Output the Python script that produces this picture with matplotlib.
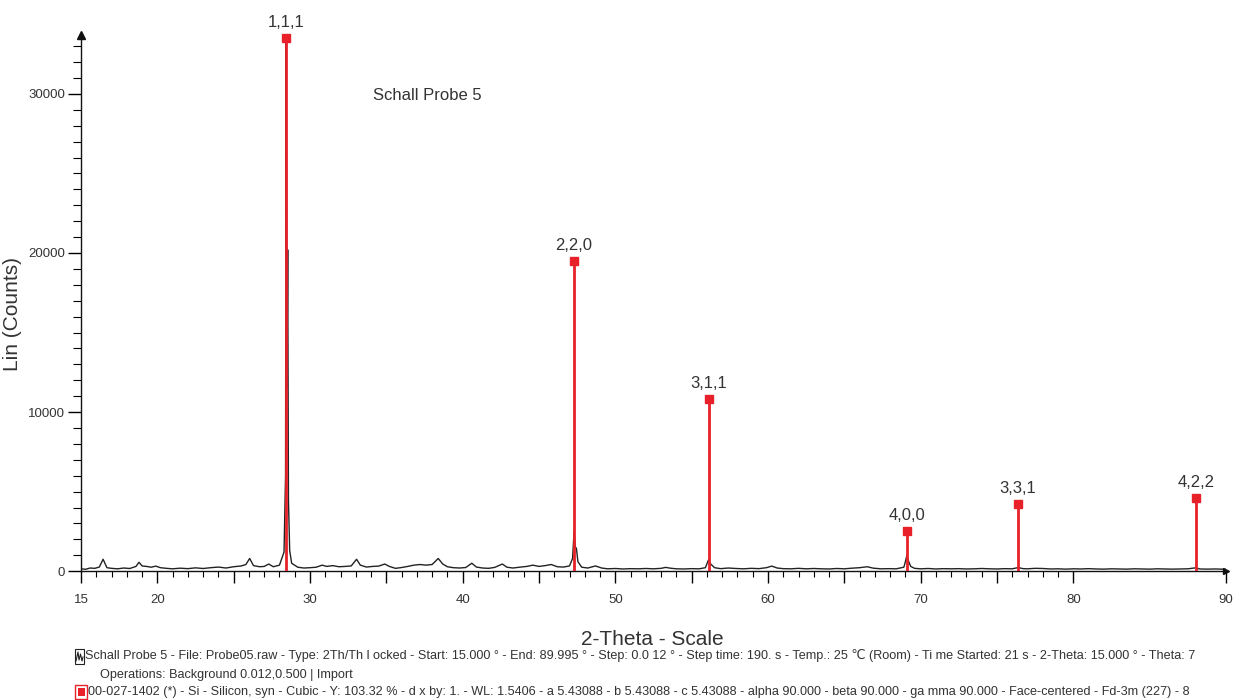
import matplotlib
matplotlib.use('Agg')
import matplotlib.pyplot as plt
from matplotlib.patches import Rectangle
from matplotlib.ticker import FixedLocator

plt.rcParams['font.family'] = ['Liberation Sans', 'DejaVu Sans']

two_theta = [15.0, 15.3, 15.6, 15.9, 16.2, 16.45, 16.7, 17.0, 17.4, 17.8, 18.2, 18.6, 18.8, 19.0,
             19.3, 19.6, 19.9, 20.2, 20.6, 21.0, 21.5, 22.0, 22.5, 23.0, 23.5, 24.0, 24.5, 25.0,
             25.5, 25.8, 26.05, 26.3, 26.7, 27.0, 27.3, 27.6, 28.0, 28.3, 28.40, 28.44, 28.49,
             28.54, 28.59, 28.67, 28.8, 29.2, 29.6, 30.0, 30.4, 30.8, 31.1, 31.5, 31.9, 32.3,
             32.7, 33.05, 33.3, 33.7, 34.1, 34.5, 34.9, 35.2, 35.6, 36.0, 36.4, 36.8, 37.2, 37.6,
             38.0, 38.4, 38.7, 39.0, 39.4, 39.8, 40.2, 40.6, 40.9, 41.3, 41.7, 42.1, 42.6, 42.9,
             43.3, 43.8, 44.2, 44.6, 45.0, 45.4, 45.8, 46.2, 46.6, 47.0, 47.2, 47.3, 47.38, 47.45,
             47.55, 47.8, 48.2, 48.7, 49.1, 49.5, 50.0, 50.5, 51.0, 51.5, 52.0, 52.5, 53.0, 53.3,
             53.6, 54.0, 54.5, 55.0, 55.5, 55.9, 56.1, 56.25, 56.5, 56.9, 57.4, 57.9, 58.4, 58.9,
             59.4, 59.9, 60.25, 60.6, 61.0, 61.5, 62.0, 62.5, 63.0, 63.5, 64.0, 64.5, 65.0, 65.5,
             66.0, 66.5, 66.9, 67.4, 67.9, 68.4, 68.9, 69.0, 69.1, 69.2, 69.35, 69.6, 70.0, 70.5,
             71.0, 71.5, 72.0, 72.5, 73.0, 73.5, 74.0, 74.5, 75.0, 75.5, 76.0, 76.4, 76.7, 77.0,
             77.5, 78.0, 78.5, 79.0, 79.5, 80.0, 80.5, 81.0, 81.5, 82.0, 82.5, 83.0, 83.5, 84.0,
             84.5, 85.0, 85.5, 86.0, 86.5, 87.0, 87.5, 88.0, 88.3, 88.8, 89.3, 90.0]
counts = [150, 120, 200, 180, 260, 750, 220, 180, 150, 200, 170, 300, 560, 330,
          300, 250, 320, 220, 180, 150, 190, 160, 210, 170, 220, 260, 200, 280,
          330, 420, 800, 350, 280, 300, 450, 280, 380, 1200, 6000, 33500, 11500,
          20200, 4500, 1300, 500, 250, 200, 220, 250, 380, 300, 350, 280, 300,
          330, 750, 380, 260, 300, 320, 450, 300, 180, 230, 300, 380, 420, 380,
          420, 800, 450, 280, 220, 200, 230, 500, 260, 200, 180, 240, 450, 250,
          200, 260, 300, 380, 300, 350, 420, 280, 260, 330, 800, 2500, 1500, 1450,
          600, 250, 200, 330, 200, 150, 170, 140, 160, 150, 170, 150, 180, 240,
          190, 150, 140, 160, 150, 220, 700, 450, 220, 160, 200, 170, 150, 180,
          160, 220, 320, 200, 160, 150, 180, 150, 170, 150, 140, 170, 150, 190,
          220, 280, 190, 150, 160, 150, 250, 600, 1000, 650, 300, 180, 150, 170,
          140, 160, 150, 160, 140, 150, 170, 150, 140, 160, 150, 230, 160, 150,
          180, 170, 140, 150, 130, 150, 140, 160, 140, 130, 150, 140, 130, 150,
          140, 130, 150, 140, 130, 140, 150, 210, 140, 130, 140, 120]

# Reference lines: Si 00-027-1402
ref_pos = [28.44, 47.30, 56.12, 69.13, 76.38, 88.03]
ref_int = [33500, 19500, 10800, 2500, 4200, 4600]
ref_hkl = ['1,1,1', '2,2,0', '3,1,1', '4,0,0', '3,3,1', '4,2,2']

x_labels = [15, 20, 30, 40, 50, 60, 70, 80, 90]
x_mid = [25, 35, 45, 55, 65, 75]

red = '#e8202a'
txt = '#333333'

fig = plt.figure(figsize=(12.42, 7.0), dpi=100)
ax = fig.add_axes([0.0652, 0.184, 0.9219, 0.766])

ax.plot(two_theta, counts, color='#222222', lw=1.0, zorder=2)
for x, y in zip(ref_pos, ref_int):
    ax.plot([x, x], [0, y], color=red, lw=2.0, zorder=3, solid_capstyle='butt')
ax.plot(ref_pos, ref_int, 's', color=red, ms=5.5, zorder=4, clip_on=False)
for x, y, lab in zip(ref_pos, ref_int, ref_hkl):
    ax.annotate(lab, (x, y), xytext=(0, 6), textcoords='offset points',
                ha='center', va='bottom', fontsize=12, color=txt, annotation_clip=False)

ax.text(34.1, 29870, 'Schall Probe 5', fontsize=12, color=txt, va='center', ha='left')

ax.set_xlim(15, 90)
ax.set_ylim(0, 33700)
for s in ['top', 'right']:
    ax.spines[s].set_visible(False)
for s in ['left', 'bottom']:
    ax.spines[s].set_linewidth(1.0)
    ax.spines[s].set_color('#111111')

# axis arrows
ax.plot([15], [33700], marker='^', color='#111111', ms=6, clip_on=False)
ax.plot([90], [0], marker='>', color='#111111', ms=5, clip_on=False)

ax.set_xticks(x_labels + x_mid)
ax.set_xticklabels([str(v) for v in x_labels] + [''] * len(x_mid))
ax.xaxis.set_minor_locator(FixedLocator([v for v in range(16, 80) if v % 5 != 0]))
ax.tick_params(axis='x', which='major', length=8.5, width=1.0, direction='out',
               labelsize=9.5, labelcolor=txt, pad=8)
ax.tick_params(axis='x', which='minor', length=4, width=0.8, direction='out')

ax.set_yticks([0, 10000, 20000, 30000])
ax.set_yticklabels(['0', '10000', '20000', '30000'])
ax.yaxis.set_minor_locator(FixedLocator(list(range(1000, 34000, 1000))))
ax.tick_params(axis='y', which='major', length=9.5, width=1.0, direction='out',
               labelsize=9.5, labelcolor=txt, pad=2)
ax.tick_params(axis='y', which='minor', length=5.5, width=0.8, direction='out')

ax.set_ylabel('Lin (Counts)', fontsize=15, color=txt)
ax.yaxis.set_label_coords(-0.0515, 0.48)
ax.set_xlabel('2-Theta - Scale', fontsize=15, color=txt)
ax.xaxis.set_label_coords(0.499, -0.11)

# footer
line1 = ('Schall Probe 5 - File: Probe05.raw - Type: 2Th/Th l ocked - Start: 15.000 \u00b0 - '
         'End: 89.995 \u00b0 - Step: 0.0 12 \u00b0 - Step time: 190. s - Temp.: 25 \u2103 (Room) - '
         'Ti me Started: 21 s - 2-Theta: 15.000 \u00b0 - Theta: 7')
line2 = 'Operations: Background 0.012,0.500 | Import'
line3 = ('00-027-1402 (*) - Si - Silicon, syn - Cubic - Y: 103.32 % - d x by: 1. - WL: 1.5406 - '
         'a 5.43088 - b 5.43088 - c 5.43088 - alpha 90.000 - beta 90.000 - ga mma 90.000 - '
         'Face-centered - Fd-3m (227) - 8')
fig.text(85 / 1242, 1 - 656 / 700, line1, fontsize=9.1, color=txt, va='center', ha='left')
fig.text(100 / 1242, 1 - 675 / 700, line2, fontsize=9.1, color=txt, va='center', ha='left')
fig.text(88 / 1242, 1 - 692 / 700, line3, fontsize=9.1, color=txt, va='center', ha='left')

# legend icons
fig.patches.append(Rectangle((75 / 1242, 1 - 664 / 700), 9 / 1242, 15 / 700,
                             transform=fig.transFigure, fill=False, ec='#222222', lw=0.8))
fig.lines.append(plt.Line2D([76 / 1242, 78 / 1242, 79 / 1242, 80.5 / 1242, 82 / 1242, 83 / 1242],
                            [1 - 661 / 700, 1 - 652 / 700, 1 - 660 / 700, 1 - 654 / 700,
                             1 - 661 / 700, 1 - 657 / 700],
                            transform=fig.transFigure, color='#222222', lw=0.8))
fig.patches.append(Rectangle((75 / 1242, 1 - 699 / 700), 12 / 1242, 14 / 700,
                             transform=fig.transFigure, fill=False, ec=red, lw=1.0))
fig.patches.append(Rectangle((77.5 / 1242, 1 - 696 / 700), 7 / 1242, 8 / 700,
                             transform=fig.transFigure, fc=red, ec='none'))

fig.savefig('out.png', dpi=100)
